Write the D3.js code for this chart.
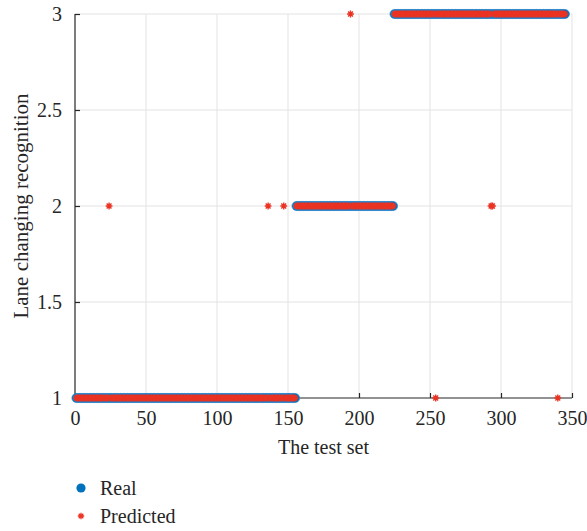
<!DOCTYPE html>
<html>
<head>
<meta charset="utf-8">
<script src="https://cdn.jsdelivr.net/npm/d3@7"></script>
<style>
  body { margin: 0; background: #fff; }
  svg text { font-family: "Liberation Serif", "DejaVu Serif", serif; fill: #262626; }
</style>
</head>
<body>
<script>
const w = 587;
const h = 531;

// real class, stored as runs of the test-set index
const runStart = [1, 156, 225];
const runEnd = [155, 224, 345];
const runClass = [1, 2, 3];

// predicted differs from real only at these samples
const errIndex = [24, 136, 147, 194, 254, 293, 294, 340];
const errClass = [2, 2, 2, 3, 1, 2, 2, 1];

const xTicks = [0, 50, 100, 150, 200, 250, 300, 350];
const yTicks = [1, 1.5, 2, 2.5, 3];

const legendNames = ["Real", "Predicted"];

// expand the runs into one point per sample
const real = [];
runStart.forEach(function(s, i) {
    for (let k = s; k <= runEnd[i]; k++) real.push({i: k, v: runClass[i]});
});
const predicted = real.map(function(d) {
    const e = errIndex.indexOf(d.i);
    return {i: d.i, v: e >= 0 ? errClass[e] : d.v};
});

const blue = "#0072bd";
const red = "#ea3323";
const serif = "'Liberation Serif', 'DejaVu Serif', serif";

const svg = d3.select("body")
    .append("svg")
    .attr("width", w)
    .attr("height", h);

const xScale = d3.scaleLinear().domain([0, 350]).range([75, 572]);
const yScale = d3.scaleLinear().domain([1, 3]).range([398, 14]);

// grid
svg.append("g")
    .selectAll("line")
    .data(xTicks.slice(1))
    .enter()
    .append("line")
    .attr("x1", d => xScale(d)).attr("x2", d => xScale(d))
    .attr("y1", yScale(1)).attr("y2", yScale(3))
    .attr("stroke", "#e3e3e3").attr("stroke-width", 1);

svg.append("g")
    .selectAll("line")
    .data(yTicks.slice(1))
    .enter()
    .append("line")
    .attr("x1", xScale(0)).attr("x2", xScale(350))
    .attr("y1", d => yScale(d)).attr("y2", d => yScale(d))
    .attr("stroke", "#e3e3e3").attr("stroke-width", 1);

// axes
const xAxis = d3.axisBottom(xScale)
    .tickValues(xTicks)
    .tickSize(-5)
    .tickPadding(13)
    .tickFormat(d3.format("d"));

const yAxis = d3.axisLeft(yScale)
    .tickValues(yTicks)
    .tickSize(-5)
    .tickPadding(13)
    .tickFormat(d3.format("~g"));

const gx = svg.append("g")
    .attr("transform", "translate(0," + yScale(1) + ")")
    .call(xAxis);

const gy = svg.append("g")
    .attr("transform", "translate(" + xScale(0) + ",0)")
    .call(yAxis);

[gx, gy].forEach(function(g) {
    g.attr("font-family", serif).attr("font-size", 20);
    g.select(".domain").attr("stroke", "#262626").attr("stroke-width", 1.2);
    g.selectAll(".tick line").attr("stroke", "#262626").attr("stroke-width", 1.2);
    g.selectAll(".tick text").attr("fill", "#262626").style("font-family", serif);
});
gx.select(".domain").attr("d", "M" + xScale(0) + ",0H" + xScale(350));
gy.select(".domain").attr("d", "M0," + yScale(1) + "V" + yScale(3));

// axis titles
svg.append("text")
    .attr("x", (xScale(0) + xScale(350)) / 2)
    .attr("y", 454)
    .attr("text-anchor", "middle")
    .style("font-size", "20px")
    .text("The test set");

svg.append("text")
    .attr("transform", "translate(28," + (yScale(1) + yScale(3)) / 2 + ") rotate(-90)")
    .attr("text-anchor", "middle")
    .style("font-size", "21px")
    .text("Lane changing recognition");

// asterisk path
function star(s) {
    const d = s * 0.7071;
    return "M" + (-s) + ",0H" + s + "M0," + (-s) + "V" + s +
        "M" + (-d) + "," + (-d) + "L" + d + "," + d +
        "M" + (-d) + "," + d + "L" + d + "," + (-d);
}

// real points
svg.append("g")
    .selectAll("circle")
    .data(real)
    .enter()
    .append("circle")
    .attr("cx", d => xScale(d.i))
    .attr("cy", d => yScale(d.v))
    .attr("r", 4.6)
    .attr("fill", blue)
    .attr("stroke", "#3d8fd0")
    .attr("stroke-width", 0.6);

// predicted points
svg.append("g")
    .selectAll("path")
    .data(predicted)
    .enter()
    .append("path")
    .attr("transform", d => "translate(" + xScale(d.i) + "," + yScale(d.v) + ")")
    .attr("d", star(3.4))
    .attr("stroke", red)
    .attr("stroke-width", 1.4)
    .attr("fill", "none");

// legend
const legend = svg.append("g");
legend.append("circle")
    .attr("cx", 81).attr("cy", 488).attr("r", 4.6)
    .attr("fill", blue);
legend.append("path")
    .attr("transform", "translate(81,516)")
    .attr("d", star(3.2))
    .attr("stroke", red).attr("stroke-width", 1.3).attr("fill", "none");
legend.selectAll("text")
    .data(legendNames)
    .enter()
    .append("text")
    .attr("x", 100)
    .attr("y", (d, i) => 495 + i * 28)
    .style("font-size", "20px")
    .text(d => d);
</script>
</body>
</html>
